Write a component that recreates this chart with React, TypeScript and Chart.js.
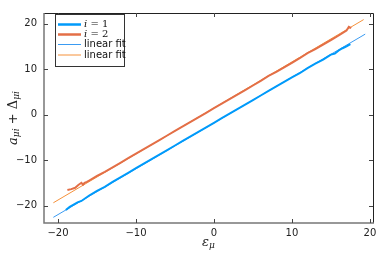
import React, { useEffect, useRef } from "react";
import { Chart, registerables } from "chart.js";
Chart.register(...registerables);

const blueX = [-19, -18.5, -18, -17.5, -17, -16.5, -16, -15, -14, -13, -12, -11, -10, -9, -8, -7, -6, -5, -4, -3, -2, -1, 0, 1, 2, 3, 4, 5, 6, 7, 8, 9, 10, 11, 12, 13, 14, 15, 15.5, 16, 16.5, 17, 17.5];
const blueY = [-21.0, -20.3, -19.8, -19.3, -19.0, -18.4, -17.8, -16.8, -15.9, -14.8, -13.8, -12.8, -11.8, -10.8, -9.8, -8.8, -7.8, -6.8, -5.8, -4.8, -3.8, -2.8, -1.8, -0.8, 0.2, 1.2, 2.2, 3.2, 4.2, 5.2, 6.2, 7.2, 8.2, 9.1, 10.2, 11.2, 12.1, 13.2, 13.4, 14.1, 14.6, 15.0, 15.5];
const orangeX = [-18.8, -18.3, -17.8, -17.4, -17.0, -16.8, -16.6, -16.3, -16, -15, -14, -13, -12, -11, -10, -9, -8, -7, -6, -5, -4, -3, -2, -1, 0, 1, 2, 3, 4, 5, 6, 7, 8, 9, 10, 11, 12, 13, 14, 15, 16, 17, 17.3, 17.6];
const orangeY = [-16.6, -16.4, -16.1, -15.5, -15.0, -15.4, -15.0, -14.8, -14.5, -13.5, -12.6, -11.6, -10.6, -9.6, -8.6, -7.6, -6.6, -5.6, -4.6, -3.6, -2.6, -1.6, -0.6, 0.4, 1.4, 2.4, 3.4, 4.4, 5.4, 6.4, 7.4, 8.5, 9.4, 10.4, 11.4, 12.4, 13.5, 14.4, 15.4, 16.4, 17.4, 18.5, 19.3, 19.0];
const fitBlueX = [-20.6, 19.4];
const fitBlueY = [-22.6, 17.7];
const fitOrangeX = [-20.6, 19.2];
const fitOrangeY = [-19.4, 20.9];
const xTicks = [-20, -10, 0, 10, 20];
const yTicks = [-20, -10, 0, 10, 20];
const legendLabels = ["i = 1", "i = 2", "linear fit", "linear fit"];

const C_BLUE = "#009AFA";
const C_RED = "#E36F47";
const C_FITBLUE = "#3a9bf2";
const C_FITORANGE = "#f5913a";

const pts = (xs: number[], ys: number[]) => xs.map((x, i) => ({ x, y: ys[i] }));

type Seg = { t: string; f: string; dy: number };
function drawSegs(ctx: CanvasRenderingContext2D, segs: Seg[], x: number, y: number, align: "left" | "center") {
  let w = 0;
  for (const s of segs) { ctx.font = s.f; w += ctx.measureText(s.t).width; }
  let cx = align === "center" ? x - w / 2 : x;
  ctx.textBaseline = "middle";
  ctx.textAlign = "left";
  for (const s of segs) { ctx.font = s.f; ctx.fillText(s.t, cx, y + s.dy); cx += ctx.measureText(s.t).width; }
}

const overlay = {
  id: "overlay",
  afterDraw(chart: any) {
    const ctx: CanvasRenderingContext2D = chart.ctx;
    const { left, right, top, bottom } = chart.chartArea;
    const xs = chart.scales.x, ys = chart.scales.y;
    ctx.save();
    // frame
    ctx.strokeStyle = "#222";
    ctx.lineWidth = 1;
    ctx.beginPath();
    ctx.moveTo(left, top + 0.5); ctx.lineTo(right + 0.5, top + 0.5); ctx.lineTo(right + 0.5, bottom);
    ctx.stroke();
    ctx.strokeStyle = "#777";
    ctx.lineWidth = 1.5;
    ctx.beginPath();
    ctx.moveTo(left, top); ctx.lineTo(left, bottom); ctx.lineTo(right + 1, bottom);
    ctx.stroke();
    // ticks
    ctx.strokeStyle = "#444";
    ctx.lineWidth = 1;
    ctx.beginPath();
    for (const v of xTicks) {
      const p = Math.round(xs.getPixelForValue(v)) + 0.5;
      ctx.moveTo(p, bottom); ctx.lineTo(p, bottom - 4);
      ctx.moveTo(p, top); ctx.lineTo(p, top + 4);
    }
    for (const v of yTicks) {
      const p = Math.round(ys.getPixelForValue(v)) + 0.5;
      ctx.moveTo(left, p); ctx.lineTo(left + 4, p);
      ctx.moveTo(right, p); ctx.lineTo(right - 4, p);
    }
    ctx.stroke();
    // legend
    const lx = 55, ly = 14, lw = 69, lh = 52;
    ctx.fillStyle = "#fff";
    ctx.fillRect(lx, ly, lw, lh);
    ctx.strokeStyle = "#333";
    ctx.lineWidth = 1;
    ctx.strokeRect(lx + 0.5, ly + 0.5, lw, lh);
    const cols = [C_BLUE, C_RED, C_FITBLUE, C_FITORANGE];
    const widths = [2.5, 2.5, 1, 1];
    const rows = [24.5, 34.5, 44.5, 55];
    ctx.fillStyle = "#111";
    rows.forEach((ry, i) => {
      ctx.strokeStyle = cols[i];
      ctx.lineWidth = widths[i];
      ctx.beginPath(); ctx.moveTo(58, ry); ctx.lineTo(81, ry); ctx.stroke();
      if (i < 2) {
        const parts = legendLabels[i].split(" = ");
        drawSegs(ctx, [
          { t: parts[0], f: "italic 10px 'DejaVu Serif'", dy: 0 },
          { t: " = ", f: "10px 'DejaVu Serif'", dy: 0 },
          { t: parts[1], f: "10px 'DejaVu Serif'", dy: 0 },
        ], 84, ry, "left");
      } else {
        drawSegs(ctx, [{ t: legendLabels[i], f: "10px 'DejaVu Sans'", dy: 0 }], 84, ry, "left");
      }
    });
    // x title
    ctx.fillStyle = "#222";
    drawSegs(ctx, [
      { t: "ε", f: "italic 13px 'DejaVu Serif'", dy: 0 },
      { t: "μ", f: "italic 9px 'DejaVu Serif'", dy: 3 },
    ], (left + right) / 2, 243, "center");
    // y title
    ctx.save();
    ctx.translate(14, (top + bottom) / 2);
    ctx.rotate(-Math.PI / 2);
    drawSegs(ctx, [
      { t: "a", f: "italic 13px 'DejaVu Serif'", dy: 0 },
      { t: "μi", f: "italic 9px 'DejaVu Serif'", dy: 3 },
      { t: " + ", f: "13px 'DejaVu Serif'", dy: 0 },
      { t: "Δ", f: "13px 'DejaVu Serif'", dy: 0 },
      { t: "μi", f: "italic 9px 'DejaVu Serif'", dy: 3 },
    ], 0, 0, "center");
    ctx.restore();
    ctx.restore();
  },
};

export default function App() {
  const ref = useRef<HTMLCanvasElement>(null);
  useEffect(() => {
    document.body.style.margin = "0";
    const fmt = (v: any) => String(v).replace("-", "\u2212");
    const chart = new Chart(ref.current!, {
      type: "scatter",
      data: {
        datasets: [
          { label: legendLabels[0], data: pts(blueX, blueY), showLine: true, borderColor: C_BLUE, borderWidth: 2, pointRadius: 0, tension: 0 },
          { label: legendLabels[1], data: pts(orangeX, orangeY), showLine: true, borderColor: C_RED, borderWidth: 2, pointRadius: 0, tension: 0 },
          { label: legendLabels[2], data: pts(fitBlueX, fitBlueY), showLine: true, borderColor: C_FITBLUE, borderWidth: 1, pointRadius: 0 },
          { label: legendLabels[3], data: pts(fitOrangeX, fitOrangeY), showLine: true, borderColor: C_FITORANGE, borderWidth: 1, pointRadius: 0 },
        ],
      },
      options: {
        animation: false,
        responsive: false,
        layout: { padding: { top: 7, right: 8, left: 0, bottom: 0 } },
        plugins: { legend: { display: false }, tooltip: { enabled: false } },
        scales: {
          x: {
            type: "linear", min: -21.8, max: 20.4,
            afterBuildTicks: (s: any) => { s.ticks = xTicks.map((v) => ({ value: v })); },
            afterFit: (s: any) => { s.height = 31; },
            grid: { display: false, drawTicks: false },
            border: { display: false },
            ticks: { padding: 4, color: "#222", font: { family: "'DejaVu Sans'", size: 10 }, callback: fmt, maxRotation: 0 },
          },
          y: {
            type: "linear", min: -23.85, max: 22.35,
            afterBuildTicks: (s: any) => { s.ticks = yTicks.map((v) => ({ value: v })); },
            afterFit: (s: any) => { s.width = 44; },
            grid: { display: false, drawTicks: false },
            border: { display: false },
            ticks: { padding: 7, color: "#222", font: { family: "'DejaVu Sans'", size: 10 }, callback: fmt },
          },
        },
      },
      plugins: [overlay],
    });
    return () => chart.destroy();
  }, []);
  return (
    <div style={{ width: 381, height: 254 }}>
      <canvas ref={ref} width={381} height={254} style={{ display: "block" }} />
    </div>
  );
}
